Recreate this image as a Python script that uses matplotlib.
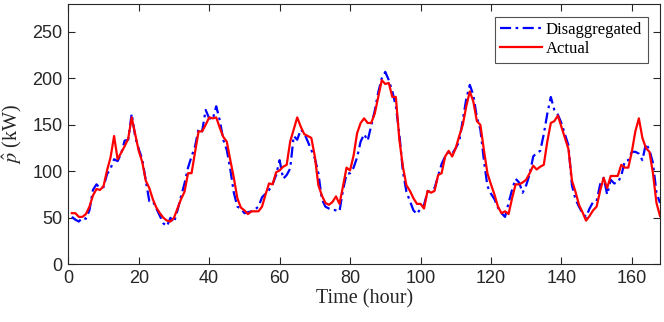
import numpy as np
import matplotlib
matplotlib.use("Agg")
import matplotlib.pyplot as plt

hours = list(range(1, 169))

actual = [55, 55, 51, 51, 54, 62, 74, 81, 80, 84,
          101, 115, 138, 113, 120, 127, 135, 158, 140, 122,
          110, 90, 82, 70, 61, 55, 50, 47, 46, 50,
          60, 70, 78, 98, 98, 121, 143, 143, 150, 158,
          157, 158, 147, 137, 132, 112, 93, 71, 61, 58,
          54, 57, 57, 57, 62, 75, 87, 86, 99, 101,
          105, 107, 132, 145, 158, 148, 140, 138, 136, 116,
          85, 74, 66, 64, 67, 73, 65, 84, 104, 101,
          117, 141, 152, 157, 152, 152, 162, 180, 198, 194,
          195, 180, 180, 134, 105, 85, 79, 71, 65, 65,
          60, 79, 77, 79, 96, 98, 116, 122, 116, 125,
          138, 150, 170, 186, 175, 154, 150, 123, 98, 86,
          75, 62, 55, 57, 54, 71, 86, 86, 88, 91,
          98, 106, 102, 105, 107, 132, 152, 154, 160, 148,
          136, 124, 90, 78, 64, 56, 47, 52, 58, 62,
          79, 93, 82, 95, 95, 95, 107, 104, 104, 121,
          143, 157, 136, 125, 121, 98, 66, 52]

disagg = [51, 48, 46, 50, 49, 58, 80, 86, 82, 83,
          97, 103, 113, 111, 119, 133, 134, 162, 137, 124,
          113, 90, 68, 68, 60, 52, 44, 41, 50, 45,
          58, 73, 87, 104, 116, 127, 146, 143, 166, 157,
          156, 170, 155, 134, 123, 102, 77, 62, 60, 55,
          56, 57, 59, 62, 72, 76, 80, 86, 96, 112,
          92, 96, 103, 138, 134, 145, 141, 132, 123, 114,
          98, 70, 62, 60, 59, 58, 57, 80, 97, 98,
          104, 115, 132, 140, 133, 149, 165, 185, 200, 207,
          198, 186, 170, 140, 100, 78, 68, 58, 54, 60,
          64, 78, 80, 82, 95, 108, 116, 121, 119, 125,
          132, 155, 178, 193, 182, 158, 145, 112, 84, 76,
          70, 61, 55, 51, 66, 80, 92, 88, 77, 85,
          97, 116, 120, 122, 140, 162, 180, 166, 161, 152,
          140, 128, 85, 70, 62, 55, 51, 60, 67, 68,
          86, 93, 75, 91, 87, 88, 95, 111, 112, 121,
          121, 119, 112, 130, 123, 109, 77, 66]

xticks = [0, 20, 40, 60, 80, 100, 120, 140, 160]
yticks = [0, 50, 100, 150, 200, 250]

plt.rcParams['mathtext.fontset'] = 'stix'
fig = plt.figure(figsize=(6.64, 3.22), dpi=100)
ax = fig.add_axes([68.3/664, 1-264.3/322, (660-68.3)/664, (264.3-4)/322])

ax.plot(hours, disagg, color=(0, 0, 1), lw=1.6, linestyle=(0, (5, 2, 1.2, 2)), label='Disaggregated')
ax.plot(hours, actual, color=(1, 0, 0), lw=1.6, label='Actual')

ax.set_xlim(0, 168)
ax.set_ylim(0, 280)
ax.set_xticks(xticks)
ax.set_yticks(yticks)
gray = '#262626'
for s in ax.spines.values():
    s.set_color(gray)
    s.set_linewidth(0.8)
ax.tick_params(direction='in', top=True, right=True, length=5, width=0.8, color=gray,
               labelsize=13, labelcolor=gray, pad=4)
for lab in ax.get_xticklabels() + ax.get_yticklabels():
    lab.set_fontfamily('Liberation Sans')

ax.set_xlabel('Time (hour)', fontfamily='Liberation Serif', fontsize=14.5, color=gray, labelpad=2)
ax.set_ylabel(r'$\hat{p}$ (kW)', fontfamily='Liberation Serif', fontsize=14.5, color=gray, labelpad=6)

leg = ax.legend(loc='upper right', prop={'family': 'Liberation Serif', 'size': 12},
                frameon=True, fancybox=False, handlelength=2.5, handletextpad=0.2,
                borderpad=0.35, labelspacing=0.15, borderaxespad=0.75)
leg.get_frame().set_edgecolor(gray)
leg.get_frame().set_linewidth(0.8)

fig.savefig('out.png', dpi=100)
